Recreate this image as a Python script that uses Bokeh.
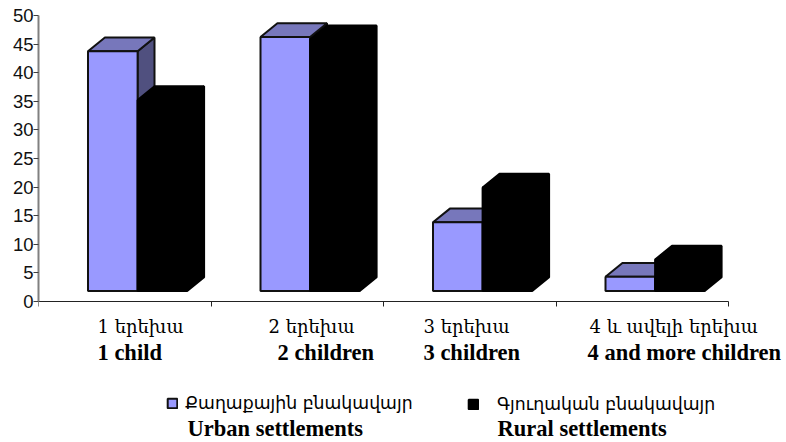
from bokeh.plotting import figure
from bokeh.models import Label, Range1d, FixedTicker, Legend, LegendItem
from bokeh.embed import file_html
from bokeh.resources import INLINE

cat_hy = ["1 երեխա", "2 երեխա", "3 երեխա", "4 և ավելի երեխա"]
cat_en = ["1 child", "2 children", "3 children", "4 and more children"]
urban = [41.9, 44.4, 12.0, 2.5]
rural = [33.4, 44.0, 18.1, 5.5]
y_ticks = [0, 5, 10, 15, 20, 25, 30, 35, 40, 45, 50]
x_ticks = [0, 1, 2, 3, 4]
leg_hy = ["Քաղաքային բնակավայր", "Գյուղական բնակավայր"]
leg_en = ["Urban settlements", "Rural settlements"]

W, H = 786, 440
LEFT, TOP, AXIS_W, AXIS_H = 38, 15, 690, 286
p = figure(width=W, height=H, output_backend="svg", toolbar_location=None,
           x_range=Range1d(0, 4 * (W - LEFT) / AXIS_W),
           y_range=Range1d(-50 * (H - TOP - AXIS_H) / AXIS_H, 50),
           min_border_left=LEFT, min_border_right=0, min_border_top=TOP, min_border_bottom=0)
p.outline_line_color = None
p.grid.visible = False
p.background_fill_color = "white"

p.yaxis.bounds = (0, 50)
p.yaxis.ticker = FixedTicker(ticks=y_ticks)
p.yaxis.axis_line_color = "#808080"
p.yaxis.axis_line_width = 2
p.yaxis.major_tick_line_color = "#404040"
p.yaxis.major_tick_out = 5
p.yaxis.major_tick_in = 0
p.yaxis.minor_tick_line_color = None
p.yaxis.major_label_standoff = 0
p.yaxis.major_label_text_font = "Liberation Sans"
p.yaxis.major_label_text_font_size = "18.5px"
p.yaxis.major_label_text_color = "#111111"

p.xaxis.bounds = (0, 4)
p.xaxis.fixed_location = 0
p.xaxis.ticker = FixedTicker(ticks=x_ticks)
p.xaxis.axis_line_color = "#222222"
p.xaxis.axis_line_width = 1
p.xaxis.major_tick_line_color = "#222222"
p.xaxis.major_tick_out = 5
p.xaxis.major_tick_in = 0
p.xaxis.minor_tick_line_color = None
p.xaxis.major_label_text_font_size = "0px"
p.xaxis.major_label_text_color = None

FLOOR = 1.84
DX, DY = 0.098, 2.4
BAR = 0.2875
OFF = 0.287
LW = 2
URBAN = ("#9999FF", "#7777BB", "#50507F", "#111111")
RURAL = ("#000000", "#000000", "#000000", "#000000")

def bar(x0, v, cols):
    x1 = x0 + BAR
    t = FLOOR + v
    front, top, side, line = cols
    p.patch([x1, x1 + DX, x1 + DX, x1], [FLOOR, FLOOR + DY, t + DY, t],
            fill_color=side, line_color=line, line_width=LW)
    p.patch([x0, x1, x1 + DX, x0 + DX], [t, t, t + DY, t + DY],
            fill_color=top, line_color=line, line_width=LW)
    return p.patch([x0, x1, x1, x0], [FLOOR, FLOOR, t, t],
                   fill_color=front, line_color=line, line_width=LW)

r_u = r_r = None
for i in range(4):
    r_u = bar(i + OFF, urban[i], URBAN)
    r_r = bar(i + OFF + BAR, rural[i], RURAL)

def text(txt, px, baseline, font, size, style="normal"):
    p.add_layout(Label(x=px - LEFT, y=H - baseline, x_units="screen", y_units="screen",
                       text=txt, text_font=font, text_font_size=size, text_font_style=style,
                       text_color="#000000", text_baseline="alphabetic", text_align="left"))

hy_x = [97, 268, 423, 589]
en_x = [97, 277, 423, 587]
for i in range(4):
    text(cat_hy[i], hy_x[i], 326, "DejaVu Serif", "18px")
    text(cat_en[i], en_x[i], 352, "Liberation Serif", "22.5px", "bold")

def leg(label, rend, px, py, standoff):
    p.add_layout(Legend(items=[LegendItem(label=label, renderers=[rend])],
                        location=(px - LEFT, H - py), border_line_color=None,
                        background_fill_alpha=0, glyph_width=12, glyph_height=12,
                        label_standoff=standoff, padding=0, margin=0,
                        label_text_font="DejaVu Sans", label_text_font_size="17.3px",
                        label_text_color="#000000"), "center")

leg(leg_hy[0], r_u, 166, 413, 7)
leg(leg_hy[1], r_r, 467, 414, 18)

text(leg_en[0], 187, 428, "Liberation Serif", "22.5px", "bold")
text(leg_en[1], 497, 428, "Liberation Serif", "22.5px", "bold")

open("out.html", "w").write(file_html(p, INLINE))
